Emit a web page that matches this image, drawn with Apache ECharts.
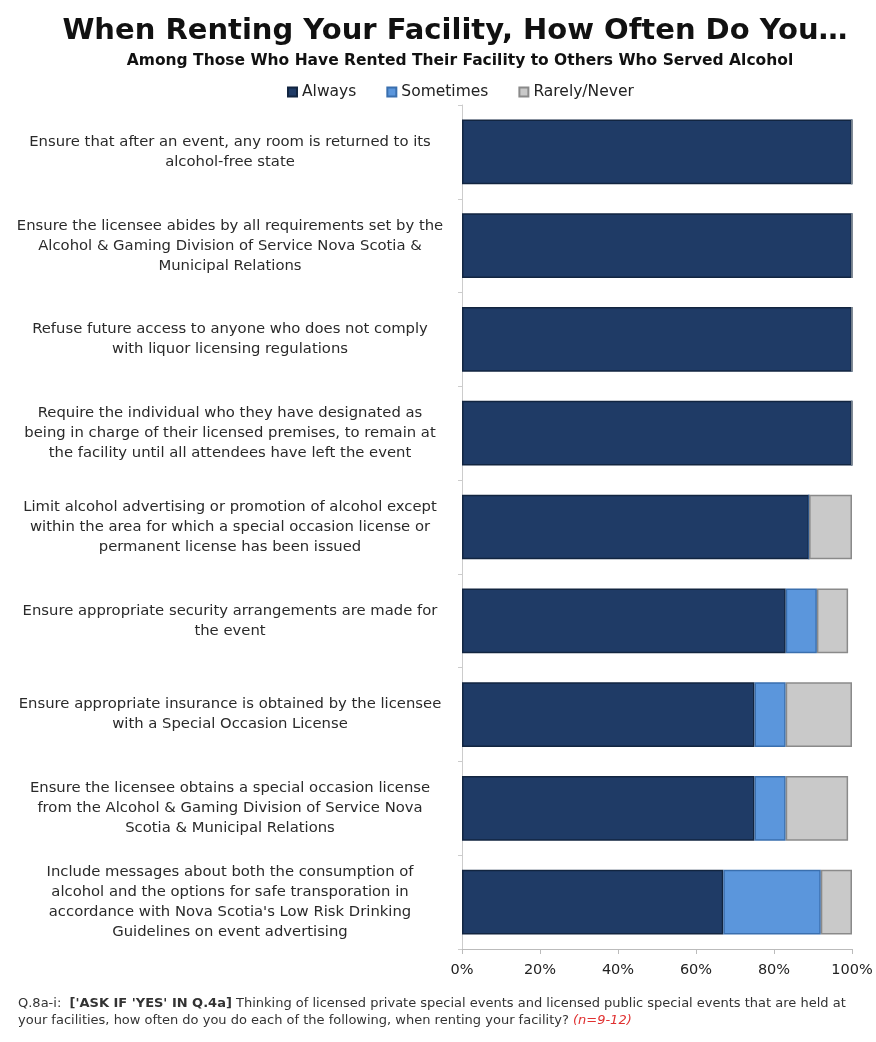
<!DOCTYPE html>
<html><head><meta charset="utf-8">
<script src="https://cdn.jsdelivr.net/npm/echarts@6/dist/echarts.min.js"></script>
<style>html,body{margin:0;padding:0;background:#fff}#c{width:876px;height:1042px}</style>
</head><body><div id="c"></div>
<script>
const categories = [
  "Ensure that after an event, any room is returned to its\nalcohol-free state",
  "Ensure the licensee abides by all requirements set by the\nAlcohol & Gaming Division of Service Nova Scotia &\nMunicipal Relations",
  "Refuse future access to anyone who does not comply\nwith liquor licensing regulations",
  "Require the individual who they have designated as\nbeing in charge of their licensed premises, to remain at\nthe facility until all attendees have left the event",
  "Limit alcohol advertising or promotion of alcohol except\nwithin the area for which a special occasion license or\npermanent license has been issued",
  "Ensure appropriate security arrangements are made for\nthe event",
  "Ensure appropriate insurance is obtained by the licensee\nwith a Special Occasion License",
  "Ensure the licensee obtains a special occasion license\nfrom the Alcohol & Gaming Division of Service Nova\nScotia & Municipal Relations",
  "Include messages about both the consumption of\nalcohol and the options for safe transporation in\naccordance with Nova Scotia's Low Risk Drinking\nGuidelines on event advertising"
];
const always    = [100, 100, 100, 100, 89, 83, 75, 75, 67];
const sometimes = [0, 0, 0, 0, 0, 8, 8, 8, 25];
const rarely    = [0, 0, 0, 0, 11, 8, 17, 16, 8];
const xTicks = [0, 20, 40, 60, 80, 100];

const FONT = "'DejaVu Sans', sans-serif";
const chart = echarts.init(document.getElementById('c'));
function ser(name, data, color, border) {
  return {
    name, type: 'bar', stack: 'all', data, barWidth: '69%',
    itemStyle: { color, borderColor: border, borderWidth: 1.5 },
    emphasis: { disabled: true }
  };
}
chart.setOption({
  animation: false,
  title: [{
    text: 'When Renting Your Facility, How Often Do You…',
    left: 450, textAlign: 'center', top: 12,
    textStyle: { fontFamily: FONT, fontSize: 29, fontWeight: 'bold', color: '#111' }
  }, {
    text: 'Among Those Who Have Rented Their Facility to Others Who Served Alcohol',
    left: 455, textAlign: 'center', top: 48,
    textStyle: { fontFamily: FONT, fontSize: 15.5, fontWeight: 'bold', color: '#111' }
  }],
  legend: {
    top: 79, left: 282, itemWidth: 9, itemHeight: 9, itemGap: 30,
    icon: 'rect',
    textStyle: { fontFamily: FONT, fontSize: 15.5, color: '#222' },
    data: ['Always', 'Sometimes', 'Rarely/Never']
  },
  grid: { left: 462, right: 24, top: 105, bottom: 93 },
  xAxis: {
    type: 'value', min: 0, max: 100, interval: 20,
    axisLine: { show: true, lineStyle: { color: '#bbb' } },
    axisTick: { show: true, length: 5, lineStyle: { color: '#bbb' } },
    splitLine: { show: false },
    axisLabel: { fontFamily: FONT, fontSize: 14.5, color: '#222', margin: 14,
      formatter: v => xTicks.includes(v) ? v + '%' : '' }
  },
  yAxis: {
    type: 'category', data: categories, inverse: true,
    axisLine: { show: true, lineStyle: { color: '#ccc' } },
    axisTick: { show: true, length: 4, lineStyle: { color: '#ccc' } },
    axisLabel: { align: 'center', margin: 232, fontFamily: FONT, fontSize: 14.8, lineHeight: 20, color: '#2a2a2a' }
  },
  series: [
    ser('Always', always, '#1f3b66', '#122540'),
    ser('Sometimes', sometimes, '#5b96dc', '#3a6fae'),
    ser('Rarely/Never', rarely, '#c9c9c9', '#8a8a8a')
  ],
  graphic: [{
    type: 'text', left: 18, top: 995,
    style: {
      text: "Q.8a-i:  {b|['ASK IF 'YES' IN Q.4a]} Thinking of licensed private special events and licensed public special events that are held at\nyour facilities, how often do you do each of the following, when renting your facility? {r|(n=9-12)}",
      fontFamily: FONT, fontSize: 13, lineHeight: 17, fill: '#333',
      rich: {
        b: { fontFamily: FONT, fontSize: 13, fontWeight: 'bold', fill: '#333' },
        r: { fontFamily: FONT, fontSize: 13, fontStyle: 'italic', fill: '#e03030' }
      }
    }
  }]
});
</script></body></html>
